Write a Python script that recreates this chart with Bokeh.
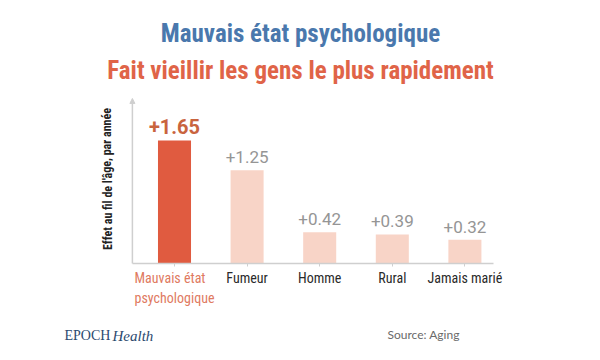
from bokeh.plotting import figure
from bokeh.models import (ColumnDataSource, LabelSet, Label, LinearAxis, FixedTicker,
                          Range1d, Arrow, NormalHead)
from bokeh.core.properties import value
from bokeh.embed import file_html
from bokeh.resources import INLINE

categories = ["Mauvais état\npsychologique", "Fumeur", "Homme", "Rural", "Jamais marié"]
values = [1.65, 1.25, 0.42, 0.39, 0.32]
value_labels = ["+1.65", "+1.25", "+0.42", "+0.39", "+0.32"]
title_1 = "Mauvais état psychologique"
title_2 = "Fait vieillir les gens le plus rapidement"
y_label = "Effet au fil de l'âge, par année"
source_text = "Source: Aging"

COND = "'Roboto Condensed'"

idx = list(range(len(categories)))
bar_colors = ["#e05b40"] + ["#f8d4c7"] * 4
val_colors = ["#c9643e"] + ["#959595"] * 4
val_sizes = ["20px"] + ["17px"] * 4
val_styles = ["bold"] + ["normal"] * 4
cat_colors = ["#e07a5f"] + ["#2a2a2a"] * 4

src = ColumnDataSource(dict(x=idx, v=values, vl=value_labels, cat=categories,
                            bc=bar_colors, vc=val_colors, vs=val_sizes, vst=val_styles,
                            cc=cat_colors, zero=[0] * len(idx)))

W, H = 600, 360
p = figure(width=W, height=H, output_backend="svg", toolbar_location=None,
           x_range=Range1d(-2.3967, 5.8678), y_range=Range1d(-1.302, 3.530),
           min_border=0, x_axis_type=None, y_axis_type=None)
p.outline_line_color = None
p.grid.visible = False
p.background_fill_color = "white"
p.border_fill_color = "white"

p.vbar(x="x", top="v", width=0.455, bottom=0, fill_color="bc", line_color=None, source=src)

xa = LinearAxis(fixed_location=0, ticker=FixedTicker(ticks=idx), bounds=(-0.58, 4.39))
xa.axis_line_color = "#cfcfcf"
xa.axis_line_width = 1.5
xa.major_tick_line_color = "#cfcfcf"
xa.major_tick_out = 3
xa.major_tick_in = 0
xa.minor_tick_line_color = None
xa.major_label_text_alpha = 0
p.add_layout(xa, "below")

p.add_layout(Arrow(x_start=-0.58, y_start=0, x_end=-0.58, y_end=2.215,
                   line_color="#cfcfcf", line_width=1.5,
                   end=NormalHead(size=5, fill_color="#cfcfcf", line_color="#cfcfcf")))

p.add_layout(LabelSet(x="x", y="v", text="vl", source=src, y_offset=7,
                      text_align="center", text_baseline="alphabetic",
                      text_color="vc", text_font_size="vs",
                      text_font_style="vst", text_font=value("Roboto")))
p.add_layout(LabelSet(x="x", y="zero", text="cat", source=src, y_offset=-7,
                      text_align="center", text_baseline="top",
                      text_color="cc", text_font_size=value("14px"),
                      text_font_style=value("normal"),
                      text_font=value(COND), text_line_height=1.2))

p.add_layout(Label(x=300, y=327, x_units="screen", y_units="screen", text=title_1,
                   text_align="center", text_baseline="alphabetic",
                   text_color="#4a78ad", text_font_size="25px", text_font_style="bold",
                   text_font=COND))
p.add_layout(Label(x=300, y=290, x_units="screen", y_units="screen", text=title_2,
                   text_align="center", text_baseline="alphabetic",
                   text_color="#e06448", text_font_size="25px", text_font_style="bold",
                   text_font=COND))
p.add_layout(Label(x=107, y=181.5, x_units="screen", y_units="screen", text=y_label,
                   angle=1.5708, text_align="center", text_baseline="middle",
                   text_color="#222222", text_font_size="12px", text_font_style="bold",
                   text_font=COND))
p.add_layout(Label(x=64, y=25, x_units="screen", y_units="screen", text="EPOCH",
                   text_align="left", text_baseline="alphabetic",
                   text_color="#2b4a6f", text_font_size="14px",
                   text_font="Liberation Serif"))
p.add_layout(Label(x=112, y=25, x_units="screen", y_units="screen", text="Health",
                   text_align="left", text_baseline="alphabetic",
                   text_color="#2b4a6f", text_font_size="15px", text_font_style="italic",
                   text_font="Liberation Serif"))
p.add_layout(Label(x=387, y=26, x_units="screen", y_units="screen", text=source_text,
                   text_align="left", text_baseline="alphabetic",
                   text_color="#6a6a6a", text_font_size="12px",
                   text_font="Lato"))

open("out.html", "w").write(file_html(p, INLINE))
